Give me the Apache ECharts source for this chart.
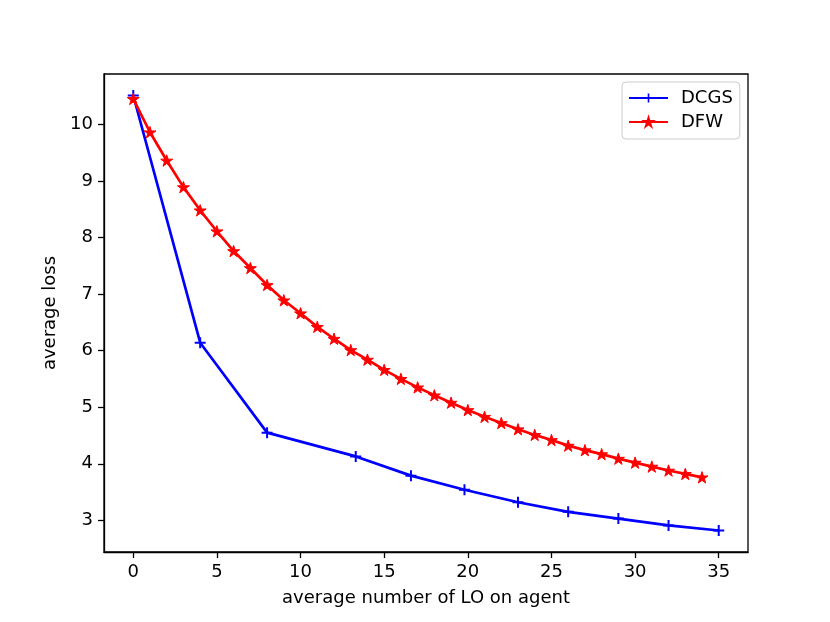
<!DOCTYPE html>
<html>
<head>
    <meta charset="UTF-8">
    <title>average loss</title>
    <script src="https://cdn.jsdelivr.net/npm/echarts@6/dist/echarts.min.js"></script>
    <style>
        * { margin: 0; padding: 0; }
        body { background: #fff; }
        #main { width: 830px; height: 622px; }
    </style>
</head>
<body>
    <div id="main"></div>
    <script>
        // 数据：点
        var dcgsX = [0, 4, 8, 13.3, 16.6, 19.8, 23, 26, 29, 32, 35];
        var dcgsY = [10.51, 6.14, 4.55, 4.13, 3.79, 3.54, 3.32, 3.15, 3.03, 2.91, 2.82];

        var dfwX = [0, 1, 2, 3, 4, 5, 6, 7, 8, 9, 10, 11, 12, 13, 14, 15, 16, 17,
                    18, 19, 20, 21, 22, 23, 24, 25, 26, 27, 28, 29, 30, 31, 32, 33, 34];
        var dfwY = [10.45, 9.86, 9.36, 8.89, 8.48, 8.11, 7.76, 7.46, 7.16, 6.89, 6.66, 6.42,
                    6.21, 6.01, 5.84, 5.66, 5.50, 5.35, 5.21, 5.08, 4.95, 4.83, 4.72, 4.61,
                    4.51, 4.42, 4.32, 4.24, 4.17, 4.09, 4.02, 3.95, 3.88, 3.82, 3.76];

        var xTicks = [0, 5, 10, 15, 20, 25, 30, 35];
        var yTicks = [3, 4, 5, 6, 7, 8, 9, 10];

        var font = 'DejaVu Sans';

        // 标记形状：加号和五角星
        var plusPath = 'path://M-2,-11 L2,-11 L2,11 L-2,11 Z M-11,-2 L11,-2 L11,2 L-11,2 Z';
        var starPath = 'path://M0,-1 L0.2245,-0.309 L0.951,-0.309 L0.3633,0.118 L0.5878,0.809 ' +
                       'L0,0.382 L-0.5878,0.809 L-0.3633,0.118 L-0.951,-0.309 L-0.2245,-0.309 Z';

        function pairs(xs, ys) {
            var out = [];
            for (var i = 0; i < xs.length; i++) out.push([xs[i], ys[i]]);
            return out;
        }

        var myChart = echarts.init(document.getElementById('main'));

        var option = {
            animation: false,
            backgroundColor: '#fff',
            grid: {
                left: 104, right: 82, top: 74, bottom: 70,
                show: true,
                borderColor: '#000',
                borderWidth: 1.3,
                backgroundColor: 'transparent'
            },
            legend: {
                data: ['DCGS', 'DFW'],
                orient: 'vertical',
                left: 622,
                top: 82,
                padding: [7, 7, 8, 6],
                itemWidth: 39,
                itemHeight: 11,
                itemGap: 6,
                borderColor: '#ccc',
                borderWidth: 1,
                borderRadius: 4,
                backgroundColor: 'rgba(255,255,255,0.8)',
                textStyle: { fontFamily: font, fontSize: 18, color: '#000', padding: [0, 0, 0, 8] }
            },
            xAxis: {
                type: 'value',
                min: -1.75,
                max: 36.75,
                name: 'average number of LO on agent',
                nameLocation: 'middle',
                nameGap: 37,
                nameTextStyle: { fontFamily: font, fontSize: 18, color: '#000' },
                axisLine: { show: true, onZero: false, lineStyle: { color: '#000', width: 1.3 } },
                axisTick: { show: true, inside: false, length: 6, customValues: xTicks,
                            lineStyle: { color: '#000', width: 1.3 } },
                axisLabel: { customValues: xTicks, margin: 11, fontFamily: font, fontSize: 18, color: '#000' },
                splitLine: { show: false }
            },
            yAxis: {
                type: 'value',
                min: 2.44,
                max: 10.89,
                name: 'average loss',
                nameLocation: 'middle',
                nameGap: 42,
                nameTextStyle: { fontFamily: font, fontSize: 18, color: '#000' },
                axisLine: { show: true, onZero: false, lineStyle: { color: '#000', width: 1.3 } },
                axisTick: { show: true, inside: false, length: 6, customValues: yTicks,
                            lineStyle: { color: '#000', width: 1.3 } },
                axisLabel: { customValues: yTicks, margin: 11, fontFamily: font, fontSize: 18, color: '#000' },
                splitLine: { show: false }
            },
            series: [
                {
                    name: 'DCGS',
                    type: 'line',
                    data: pairs(dcgsX, dcgsY),
                    symbol: plusPath,
                    symbolSize: 11,
                    showSymbol: true,
                    showAllSymbol: true,
                    lineStyle: { color: '#0000ff', width: 2.7 },
                    itemStyle: { color: '#0000ff' }
                },
                {
                    name: 'DFW',
                    type: 'line',
                    data: pairs(dfwX, dfwY),
                    symbol: starPath,
                    symbolSize: 12,
                    symbolKeepAspect: true,
                    showSymbol: true,
                    showAllSymbol: true,
                    lineStyle: { color: '#ff0000', width: 2.7 },
                    itemStyle: { color: '#ff0000', borderColor: '#ff0000', borderWidth: 1 }
                }
            ]
        };

        myChart.setOption(option);
    </script>
</body>
</html>
